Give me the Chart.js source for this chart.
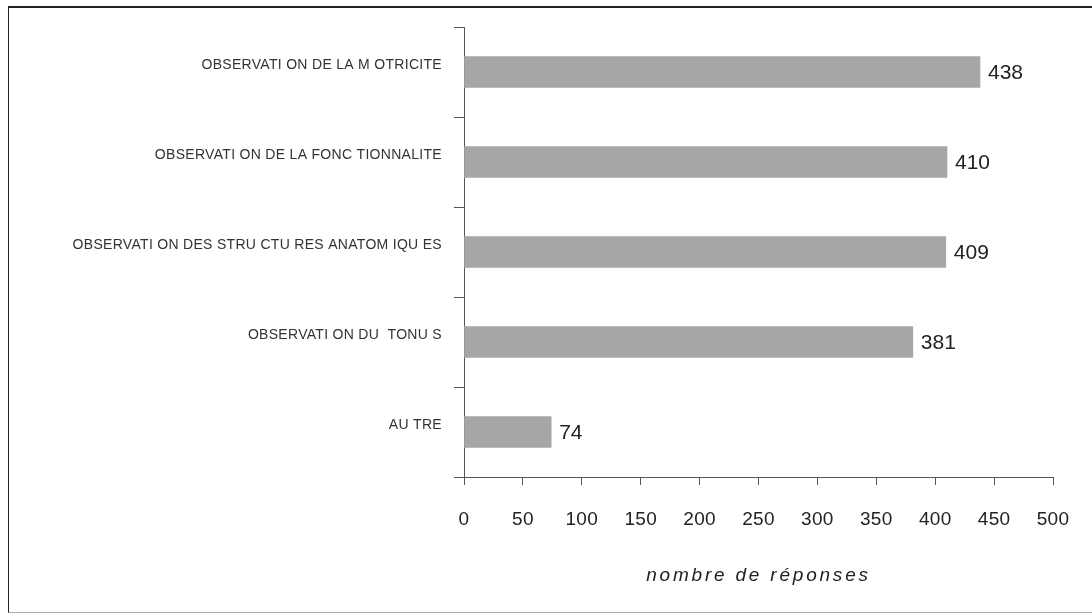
<!DOCTYPE html>
<html>
<head>
<meta charset="utf-8">
<script src="https://cdn.jsdelivr.net/npm/chart.js@4/dist/chart.umd.min.js"></script>
<style>
  html, body { margin: 0; padding: 0; background: #fff; }
  #wrap { position: relative; width: 1092px; height: 613px; overflow: hidden; }
  #frame {
    position: absolute; left: 8px; top: 6px; width: 1200px; height: 604px;
    border-left: 1px solid #222; border-top: 2px solid #222; border-bottom: 1px solid #aaa;
  }
  #chart { position: absolute; left: 0; top: 0; }
</style>
</head>
<body>
<div id="wrap">
  <div id="frame"></div>
  <canvas id="chart" width="1092" height="613"></canvas>
</div>
<script>
// categories, top to bottom
const categories = [
    'OBSERVATI ON DE LA M OTRICITE',
    'OBSERVATI ON DE LA FONC TIONNALITE',
    'OBSERVATI ON DES STRU CTU RES ANATOM IQU ES',
    'OBSERVATI ON DU  TONU S',
    'AU TRE'
];
const responses = [438, 410, 409, 381, 74];
const xTicks = [0, 50, 100, 150, 200, 250, 300, 350, 400, 450, 500];
const axisTitle = 'nombre de réponses';

const FONT = '"Liberation Sans", Arial, sans-serif';

// spaced-out text for axis labels (like the original)
const spacedText = {
    id: 'spacedText',
    beforeDraw(chart) {
        const spacing = { y: '0.3px', x: '0.3px' };
        Object.keys(spacing).forEach(id => {
            const s = chart.scales[id];
            if (!s || s._spaced) return;
            const drawLabels = s.drawLabels;
            const drawTitle = s.drawTitle;
            s.drawLabels = function (area) {
                this.ctx.save();
                this.ctx.letterSpacing = spacing[id];
                drawLabels.call(this, area);
                this.ctx.restore();
            };
            s.drawTitle = function (area) {
                this.ctx.save();
                this.ctx.letterSpacing = '2.8px';
                drawTitle.call(this, area);
                this.ctx.restore();
            };
            s._spaced = true;
        });
    }
};

// value next to each bar
const barValues = {
    id: 'barValues',
    afterDatasetsDraw(chart) {
        const ctx = chart.ctx;
        const meta = chart.getDatasetMeta(0);
        ctx.save();
        ctx.font = '21px ' + FONT;
        ctx.fillStyle = '#222';
        ctx.textAlign = 'left';
        ctx.textBaseline = 'middle';
        meta.data.forEach((bar, i) => {
            ctx.fillText(String(responses[i]), bar.x + 8, bar.y + 1);
        });
        ctx.restore();
    }
};

new Chart(document.getElementById('chart'), {
    type: 'bar',
    data: {
        labels: categories,
        datasets: [{
            data: responses,
            backgroundColor: '#a6a6a9',
            borderWidth: 0,
            barThickness: 31
        }]
    },
    options: {
        indexAxis: 'y',
        responsive: false,
        maintainAspectRatio: false,
        animation: false,
        layout: { padding: { top: 27, right: 39, left: 0, bottom: 0 } },
        plugins: {
            legend: { display: false },
            tooltip: { enabled: false }
        },
        scales: {
            y: {
                grid: { drawOnChartArea: false, tickLength: 10, color: '#555', lineWidth: 1 },
                border: { color: '#555', width: 1 },
                ticks: {
                    font: { family: FONT, size: 14 },
                    color: '#333',
                    padding: 12,
                    labelOffset: -7
                },
                afterFit(s) { s.width = 464; }
            },
            x: {
                min: 0,
                max: 500,
                afterBuildTicks(s) { s.ticks = xTicks.map(v => ({ value: v })); },
                grid: { drawOnChartArea: false, tickLength: 8, color: '#555', lineWidth: 1 },
                border: { color: '#555', width: 1 },
                ticks: {
                    font: { family: FONT, size: 19 },
                    color: '#222',
                    padding: 23,
                    maxRotation: 0
                },
                title: {
                    display: true,
                    text: axisTitle,
                    font: { family: FONT, size: 19, style: 'italic' },
                    color: '#222',
                    padding: { top: 0, bottom: 26 }
                },
                afterFit(s) { s.height = 136; }
            }
        }
    },
    plugins: [spacedText, barValues]
});
</script>
</body>
</html>
